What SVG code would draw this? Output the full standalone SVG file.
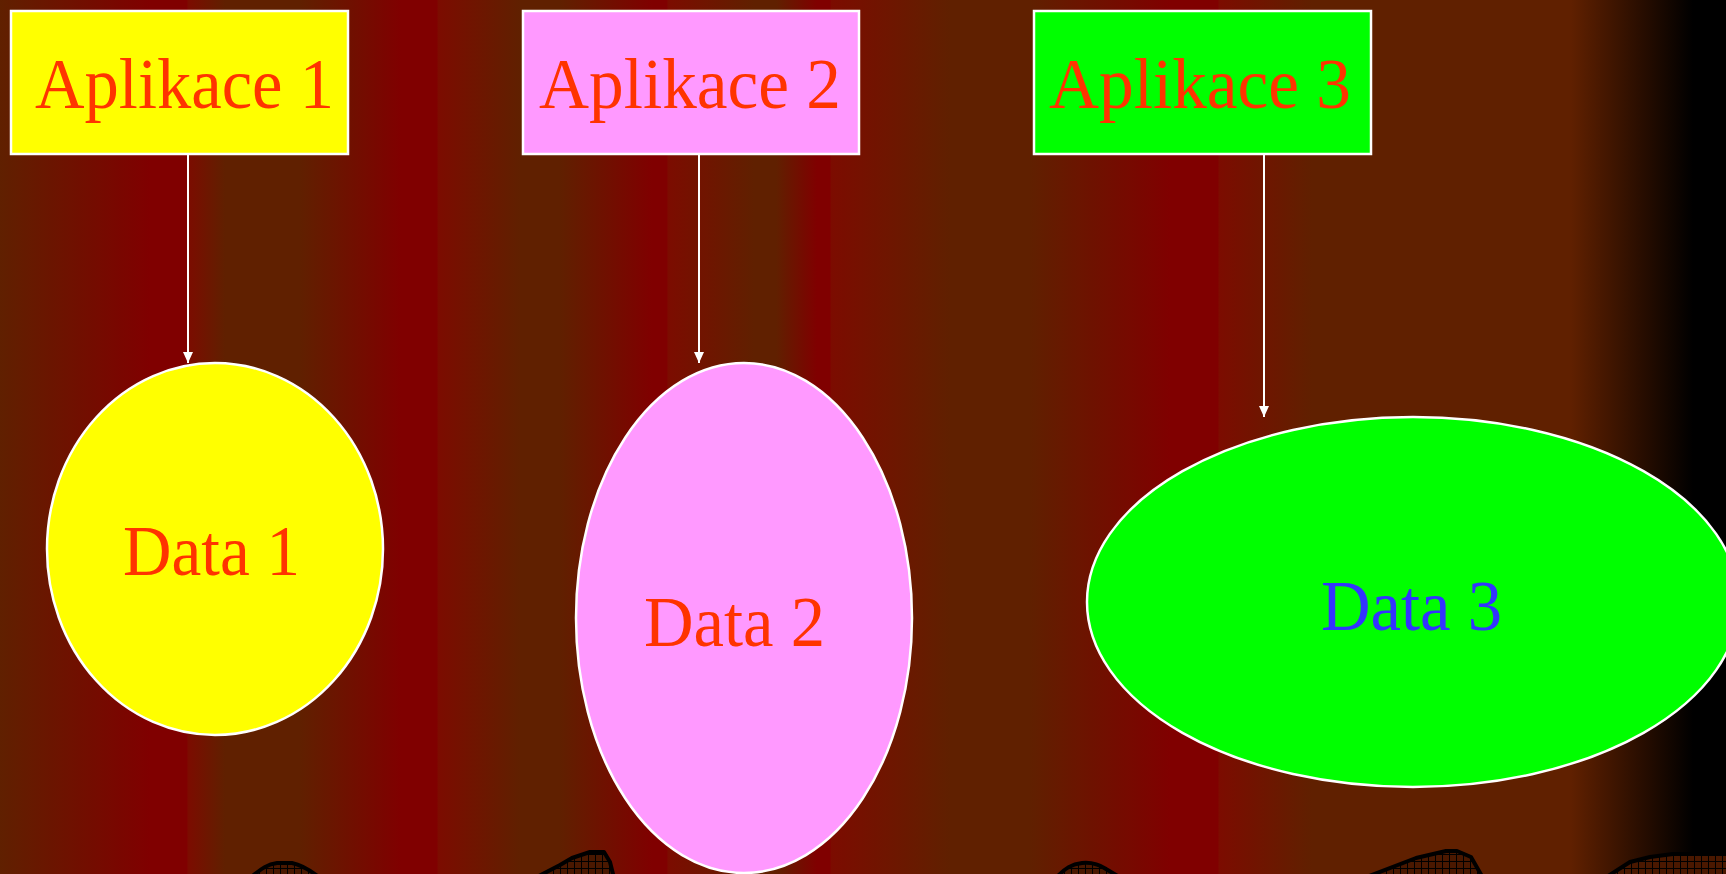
<svg xmlns="http://www.w3.org/2000/svg" width="1726" height="874" viewBox="0 0 1726 874">
  <defs>
    <linearGradient id="bg" gradientUnits="userSpaceOnUse" x1="0" y1="0" x2="1726" y2="0">
      <stop offset="0" stop-color="#602000"/>
      <stop offset="0.0869" stop-color="#800000"/>
      <stop offset="0.1083" stop-color="#800000"/>
      <stop offset="0.1089" stop-color="#7c0c00"/>
      <stop offset="0.1304" stop-color="#602000"/>
      <stop offset="0.1738" stop-color="#602000"/>
      <stop offset="0.2323" stop-color="#800000"/>
      <stop offset="0.2532" stop-color="#800000"/>
      <stop offset="0.2538" stop-color="#7c0c00"/>
      <stop offset="0.3013" stop-color="#602000"/>
      <stop offset="0.3244" stop-color="#602000"/>
      <stop offset="0.3778" stop-color="#800000"/>
      <stop offset="0.3864" stop-color="#800000"/>
      <stop offset="0.3870" stop-color="#7c0c00"/>
      <stop offset="0.4369" stop-color="#602000"/>
      <stop offset="0.4496" stop-color="#602000"/>
      <stop offset="0.4733" stop-color="#800000"/>
      <stop offset="0.4809" stop-color="#800000"/>
      <stop offset="0.4815" stop-color="#7c0c00"/>
      <stop offset="0.5504" stop-color="#602000"/>
      <stop offset="0.5968" stop-color="#602000"/>
      <stop offset="0.6779" stop-color="#800000"/>
      <stop offset="0.7057" stop-color="#800000"/>
      <stop offset="0.7062" stop-color="#7c0c00"/>
      <stop offset="0.7601" stop-color="#602000"/>
      <stop offset="0.9102" stop-color="#602000"/>
      <stop offset="0.9809" stop-color="#000000"/>
      <stop offset="1" stop-color="#000000"/>
    </linearGradient>
    <pattern id="hatch" patternUnits="userSpaceOnUse" width="7" height="7">
      <rect width="7" height="7" fill="#4a1800"/>
      <path d="M0,0.5 H7 M0.5,0 V7" stroke="#000" stroke-width="1"/>
    </pattern>
    <marker id="arrow" markerUnits="userSpaceOnUse" viewBox="0 0 11 10" markerWidth="11" markerHeight="10" refX="11" refY="5" orient="auto">
      <path d="M0,0 L11,5 L0,10 Z" fill="#ffffff"/>
    </marker>
  </defs>
  <style>
    .box { stroke: #ffffff; stroke-width: 2.5; }
    .ell { stroke: #ffffff; stroke-width: 2.5; }
    .lbl { font-family: "Liberation Serif", "Times New Roman", serif; font-size: 72px; fill: #ff3300; }
    .blue { fill: #3333ff; }
    .conn { stroke: #ffffff; stroke-width: 2; fill: none; marker-end: url(#arrow); }
    .hill { fill: url(#hatch); stroke: #000; stroke-width: 4; stroke-linejoin: round; }
  </style>

  <g id="background">
    <rect x="0" y="0" width="1726" height="874" fill="url(#bg)"/>
    <path class="hill" d="M250,878 C262,868 268,864 277,863 L292,863 C302,865 310,870 320,878 Z"/>
    <path class="hill" d="M535,878 L560,865 L572,858 L590,852 L604,852 L610,862 L614,878 Z"/>
    <path class="hill" d="M1056,878 C1065,868 1072,864 1082,863 C1092,862 1100,865 1106,869 L1121,878 Z"/>
    <path class="hill" d="M1364,878 L1416,858 L1446,851 L1457,851 L1471,857 L1483,878 Z"/>
    <path class="hill" d="M1605,878 L1630,862 L1650,857 L1673,854 L1730,854 L1730,878 Z"/>
  </g>

  <g id="connectors">
    <line class="conn" x1="188" y1="155" x2="188" y2="363"/>
    <line class="conn" x1="699" y1="155" x2="699" y2="363"/>
    <line class="conn" x1="1264" y1="155" x2="1264" y2="417"/>
  </g>

  <g id="aplikace1">
    <rect class="box" x="11" y="11" width="337" height="143" fill="#ffff00"/>
    <text class="lbl" x="35" y="108" textLength="299" lengthAdjust="spacingAndGlyphs">Aplikace 1</text>
  </g>
  <g id="aplikace2">
    <rect class="box" x="523" y="11" width="336" height="143" fill="#ff99ff"/>
    <text class="lbl" x="539" y="108" textLength="302" lengthAdjust="spacingAndGlyphs">Aplikace 2</text>
  </g>
  <g id="aplikace3">
    <rect class="box" x="1034" y="11" width="337" height="143" fill="#00ff00"/>
    <text class="lbl" x="1049" y="108" textLength="302" lengthAdjust="spacingAndGlyphs">Aplikace 3</text>
  </g>

  <g id="data1">
    <ellipse class="ell" cx="215" cy="549" rx="168" ry="186" fill="#ffff00"/>
    <text class="lbl" x="123" y="575" textLength="177" lengthAdjust="spacingAndGlyphs">Data 1</text>
  </g>
  <g id="data2">
    <ellipse class="ell" cx="744" cy="618" rx="168" ry="255" fill="#ff99ff"/>
    <text class="lbl" x="644" y="646" textLength="181" lengthAdjust="spacingAndGlyphs">Data 2</text>
  </g>
  <g id="data3">
    <ellipse class="ell" cx="1413" cy="602" rx="326" ry="185" fill="#00ff00"/>
    <text class="lbl blue" x="1321" y="630" textLength="181" lengthAdjust="spacingAndGlyphs">Data 3</text>
  </g>
</svg>
